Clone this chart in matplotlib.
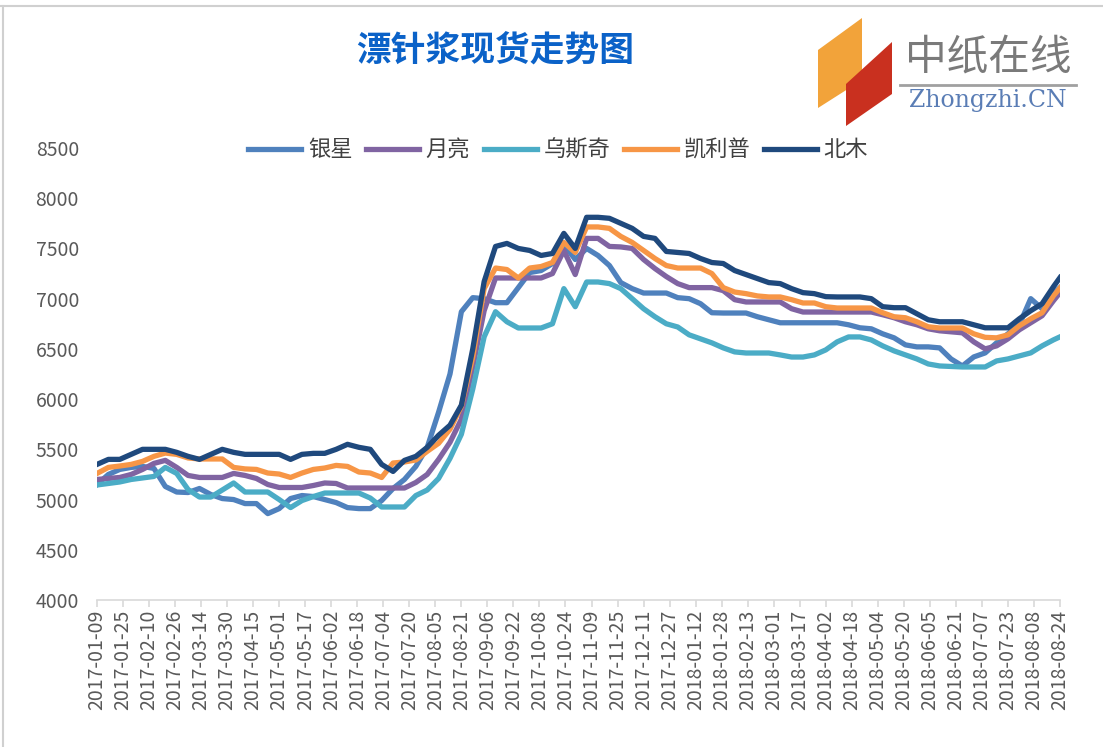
import matplotlib.pyplot as plt
import matplotlib.dates as mdates
from matplotlib.patches import Polygon
from matplotlib.lines import Line2D
import pandas as pd

plt.rcParams['font.family'] = ['Noto Sans CJK SC', 'DejaVu Sans']

# weekly quotes, last one on 2018-08-24
dates = list(pd.date_range('2017-01-09', periods=85, freq='7D')) + [pd.Timestamp('2018-08-24')]

yinxing = [5150, 5250, 5300, 5320, 5330, 5310, 5130, 5075, 5070, 5110,
           5050, 5010, 5000, 4960, 4960, 4860, 4910, 5010, 5040, 5030,
           5000, 4970, 4920, 4910, 4910, 4990, 5110, 5200, 5330, 5520,
           5870, 6250, 6870, 7010, 7000, 6960, 6960, 7110, 7260, 7280,
           7350, 7540, 7390, 7500, 7430, 7330, 7160, 7100, 7056, 7056,
           7056, 7010, 7000, 6950, 6860, 6857, 6857, 6857, 6820, 6790,
           6760, 6760, 6760, 6760, 6760, 6760, 6740, 6710, 6700, 6650,
           6610, 6540, 6520, 6520, 6510, 6400, 6330, 6420, 6460, 6560,
           6650, 6740, 7000, 6900, 7050, 7110]
yueliang = [5200, 5210, 5220, 5250, 5300, 5360, 5390, 5320, 5240, 5220,
            5220, 5220, 5260, 5240, 5210, 5150, 5120, 5120, 5120, 5140,
            5165, 5160, 5115, 5115, 5115, 5115, 5115, 5115, 5170, 5250,
            5400, 5570, 5800, 6320, 6880, 7206, 7206, 7206, 7206, 7206,
            7250, 7480, 7240, 7600, 7600, 7520, 7515, 7500, 7390, 7300,
            7220, 7150, 7110, 7110, 7110, 7080, 6990, 6967, 6967, 6967,
            6967, 6900, 6867, 6867, 6867, 6867, 6867, 6867, 6867, 6840,
            6810, 6770, 6740, 6700, 6680, 6670, 6660, 6570, 6500, 6530,
            6600, 6690, 6760, 6830, 6980, 7060]
wusiqi = [5145, 5160, 5175, 5200, 5215, 5230, 5320, 5260, 5100, 5025,
          5025, 5095, 5165, 5075, 5075, 5075, 5000, 4920, 4990, 5030,
          5065, 5065, 5065, 5065, 5015, 4926, 4926, 4926, 5040, 5095,
          5210, 5410, 5650, 6100, 6620, 6870, 6770, 6708, 6708, 6708,
          6750, 7100, 6920, 7166, 7166, 7150, 7100, 7000, 6900, 6820,
          6750, 6718, 6640, 6600, 6560, 6510, 6470, 6459, 6459, 6459,
          6440, 6419, 6419, 6440, 6490, 6570, 6619, 6619, 6589, 6530,
          6480, 6440, 6400, 6350, 6330, 6325, 6320, 6320, 6320, 6380,
          6400, 6430, 6460, 6530, 6590, 6620]
kailipu = [5260, 5320, 5334, 5350, 5380, 5430, 5463, 5450, 5414, 5404,
           5404, 5404, 5320, 5305, 5300, 5264, 5254, 5220, 5264, 5300,
           5314, 5340, 5330, 5274, 5264, 5220, 5364, 5374, 5394, 5480,
           5560, 5700, 5930, 6420, 7100, 7305, 7290, 7206, 7305, 7320,
           7360, 7560, 7460, 7714, 7714, 7700, 7620, 7560, 7480, 7400,
           7330, 7305, 7305, 7305, 7250, 7110, 7066, 7050, 7027, 7017,
           7017, 6990, 6957, 6957, 6920, 6907, 6907, 6907, 6907, 6860,
           6820, 6810, 6770, 6720, 6708, 6708, 6708, 6650, 6615, 6610,
           6640, 6730, 6800, 6860, 7030, 7106]
beimu = [5350, 5400, 5400, 5450, 5500, 5500, 5500, 5470, 5430, 5400,
         5450, 5500, 5470, 5450, 5450, 5450, 5450, 5400, 5450, 5460,
         5460, 5500, 5550, 5520, 5500, 5350, 5280, 5390, 5430, 5520,
         5640, 5740, 5940, 6500, 7170, 7520, 7550, 7500, 7480, 7430,
         7450, 7650, 7500, 7810, 7810, 7800, 7750, 7700, 7620, 7600,
         7470, 7460, 7450, 7400, 7360, 7350, 7280, 7240, 7200, 7160,
         7150, 7100, 7060, 7050, 7020, 7017, 7017, 7017, 7000, 6920,
         6910, 6910, 6850, 6790, 6770, 6770, 6770, 6740, 6710, 6710,
         6710, 6800, 6880, 6950, 7120, 7210]

series = [('银星', yinxing, '#4F81BD'),
          ('月亮', yueliang, '#8064A2'),
          ('乌斯奇', wusiqi, '#4BACC6'),
          ('凯利普', kailipu, '#F79646'),
          ('北木', beimu, '#1F497D')]

W, H = 1103, 747
fig = plt.figure(figsize=(W / 100, H / 100), dpi=100)
ax = fig.add_axes([97 / W, 1 - 600 / H, 963 / W, 452 / H])

for name, vals, c in series:
    ax.plot(dates, vals, color=c, lw=3.8, label=name, solid_joinstyle='round')

ax.set_ylim(4000, 8500)
ax.set_yticks(range(4000, 8501, 500))
ax.set_xlim(dates[0], dates[-1])
ticks = pd.date_range('2017-01-09', '2018-08-24', freq='16D')
ax.set_xticks(ticks)
ax.xaxis.set_major_formatter(mdates.DateFormatter('%Y-%m-%d'))
for lab in ax.get_xticklabels():
    lab.set_rotation(90)

for s in ['top', 'right', 'left']:
    ax.spines[s].set_visible(False)
ax.spines['bottom'].set_color('#D9D9D9')
ax.spines['bottom'].set_linewidth(1.2)
ax.tick_params(axis='y', length=0, pad=13, labelsize=14, labelcolor='#595959')
ax.tick_params(axis='x', length=5, color='#D9D9D9', width=1.2, pad=2,
               labelsize=14, labelcolor='#595959')

ax.legend(loc='center', bbox_to_anchor=(558 / W, 1 - 150 / H), bbox_transform=fig.transFigure,
          ncol=5, frameon=False, fontsize=16, handlelength=2.4, columnspacing=0.6,
          handletextpad=0.3, labelcolor='#404040')

fig.text(495 / W, 1 - 50 / H, '漂针浆现货走势图', ha='center', va='center',
         fontsize=25, fontweight='bold', color='#0B62C8')

# logo
logo = fig.add_axes([0, 0, 1, 1], facecolor='none')
logo.set_xlim(0, W)
logo.set_ylim(H, 0)
logo.axis('off')
logo.add_patch(Polygon([(818, 50), (862, 18), (862, 80), (818, 108)], closed=True,
                       facecolor='#F2A33A', edgecolor='none'))
logo.add_patch(Polygon([(846, 84), (892, 42), (892, 94), (846, 126)], closed=True,
                       facecolor='#C9301F', edgecolor='none'))
logo.text(988, 58, '中纸在线', ha='center', va='center', fontsize=30, color='#7A7A7A')
logo.plot([900, 1076], [85, 85], color='#A0A0A0', lw=2)
logo.text(988, 101, 'Zhongzhi.CN', ha='center', va='center', fontsize=17,
          family='DejaVu Serif', color='#5A7DB5')
logo.add_line(Line2D([0, W], [6, 6], color='#D0D0D0', lw=1.5))
logo.add_line(Line2D([3, 3], [6, H], color='#D0D0D0', lw=1.5))

fig.savefig('out.png', dpi=100)
